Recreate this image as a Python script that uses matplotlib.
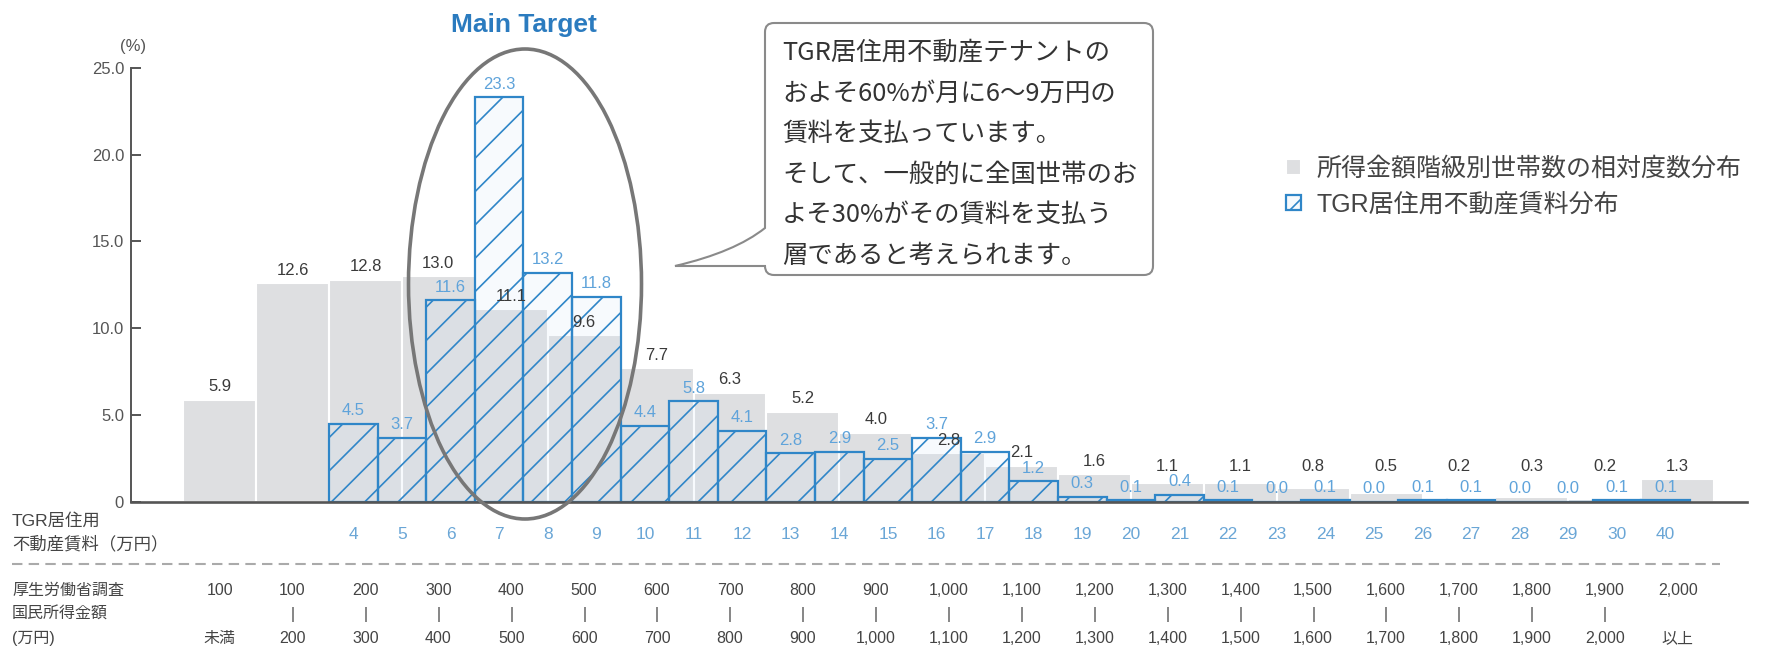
import matplotlib
matplotlib.use('Agg')
import matplotlib.pyplot as plt
import numpy as np
from matplotlib.patches import Ellipse, PathPatch
from matplotlib.path import Path

plt.rcParams['font.family'] = ['Liberation Sans', 'Noto Sans CJK JP', 'DejaVu Sans']
plt.rcParams['hatch.linewidth'] = 1.2

# ---------------- data ----------------
income_top = ["100", "100", "200", "300", "400", "500", "600", "700", "800", "900",
              "1,000", "1,100", "1,200", "1,300", "1,400", "1,500", "1,600", "1,700",
              "1,800", "1,900", "2,000"]
income_bottom = ["未満", "200", "300", "400", "500", "600", "700", "800", "900", "1,000",
                 "1,100", "1,200", "1,300", "1,400", "1,500", "1,600", "1,700", "1,800",
                 "1,900", "2,000", "以上"]
income_share = [5.9, 12.6, 12.8, 13.0, 11.1, 9.6, 7.7, 6.3, 5.2, 4.0, 2.8, 2.1, 1.6,
                1.1, 1.1, 0.8, 0.5, 0.2, 0.3, 0.2, 1.3]

rent_labels = ["4", "5", "6", "7", "8", "9", "10", "11", "12", "13", "14", "15", "16",
               "17", "18", "19", "20", "21", "22", "23", "24", "25", "26", "27", "28",
               "29", "30", "40"]
rent_share = [4.5, 3.7, 11.6, 23.3, 13.2, 11.8, 4.4, 5.8, 4.1, 2.8, 2.9, 2.5, 3.7,
              2.9, 1.2, 0.3, 0.1, 0.4, 0.1, 0.0, 0.1, 0.0, 0.1, 0.1, 0.0, 0.0, 0.1, 0.1]

legend_labels = ["所得金額階級別世帯数の相対度数分布", "TGR居住用不動産賃料分布"]
callout_lines = ["TGR居住用不動産テナントの",
                 "およそ60%が月に6〜9万円の",
                 "賃料を支払っています。",
                 "そして、一般的に全国世帯のお",
                 "よそ30%がその賃料を支払う",
                 "層であると考えられます。"]

# ---------------- layout ----------------
W, H = 1769, 658
fig = plt.figure(figsize=(W / 100, H / 100), dpi=100, facecolor='white')

ax_l, ax_r, ax_b, ax_t = 131, 1747, 502, 67.7
ax = fig.add_axes([ax_l / W, (H - ax_b) / H, (ax_r - ax_l) / W, (ax_b - ax_t) / H])

GRAY = '#dedfe1'
BLUE = '#2f86c8'
BLUE_TXT = '#5fa3da'
DARK = '#3a3a3a'

n_inc = len(income_share)
n_rent = len(rent_share)
gray_w = 1.5
gx = -3 + gray_w * np.arange(n_inc)
bx = np.arange(n_rent)

gray_bars = ax.bar(gx, income_share, width=gray_w, align='edge', color=GRAY,
                   edgecolor='white', linewidth=1.5, zorder=1)
blue_bars = ax.bar(bx, rent_share, width=1, align='edge',
                   facecolor=(0.80, 0.89, 0.97, 0.15), edgecolor=BLUE,
                   hatch='/', linewidth=1.6, zorder=2)

# gray labels keep a minimum height so they clear the small blue labels
gray_label_floor = 1.3
for x, v in zip(gx, income_share):
    ax.annotate(f"{v:.1f}", (x + gray_w / 2, max(v, gray_label_floor)), xytext=(0, 4),
                textcoords='offset points', ha='center', va='bottom', fontsize=12,
                color=DARK, zorder=6)
for x, v in zip(bx, rent_share):
    ax.annotate(f"{v:.1f}", (x + 0.5, v), xytext=(0, 4), textcoords='offset points',
                ha='center', va='bottom', fontsize=12, color=BLUE_TXT, zorder=6)

x_left = (ax_l - 329) / 48.6
x_right = (ax_r - 329) / 48.6
ax.set_xlim(x_left, x_right)
ax.set_ylim(0, 25)

for s in ['top', 'right']:
    ax.spines[s].set_visible(False)
ax.spines['left'].set_color('#555555')
ax.spines['left'].set_linewidth(1.4)
ax.spines['bottom'].set_color('#555555')
ax.spines['bottom'].set_linewidth(1.9)
ax.spines['bottom'].set_zorder(4)

yt = [0, 5, 10, 15, 20, 25]
ax.set_yticks(yt)
ax.set_yticklabels(["0"] + [f"{v:.1f}" for v in yt[1:]])
ax.tick_params(axis='y', direction='in', length=7, width=1.4, color='#555555',
               labelsize=12, labelcolor='#555555', pad=5)

ax.set_xticks(bx + 0.5)
ax.set_xticklabels(rent_labels)
ax.tick_params(axis='x', length=0, pad=18, labelsize=12.5, labelcolor='#6aa6d6')

# income class labels on a secondary axis
sec = ax.secondary_xaxis(-0.186)
inc_lbls = []
for i, (a, b) in enumerate(zip(income_top, income_bottom)):
    mid = " " if i in (0, n_inc - 1) else "|"
    inc_lbls.append(f"{a}\n{mid}\n{b}")
sec.set_xticks(gx + gray_w / 2)
sec.set_xticklabels(inc_lbls, linespacing=1.75)
sec.tick_params(length=0, pad=0, labelsize=11.5, labelcolor='#444444')
for s in sec.spines.values():
    s.set_visible(False)

# legend
fig.legend([gray_bars, blue_bars], legend_labels, loc='upper left',
           bbox_to_anchor=(1286 / W, (H - 157) / H), frameon=False, fontsize=18,
           handlelength=0.6, handleheight=0.6, handletextpad=0.6, labelspacing=0.45,
           borderpad=0, borderaxespad=0, labelcolor='#444444')

# ---------------- overlay (annotations in pixel coords) ----------------
ov = fig.add_axes([0, 0, 1, 1], zorder=10)
ov.set_xlim(0, W)
ov.set_ylim(H, 0)
ov.axis('off')
ov.patch.set_alpha(0)

ov.add_patch(Ellipse((525, 284), 233, 470, fill=False, edgecolor='#777777', lw=2.6))
ov.text(524, 25, "Main Target", ha='center', va='center', fontsize=19,
        fontweight='bold', color='#2b7bbf', family=['Liberation Sans'])

ov.text(133, 47, "(%)", ha='center', va='center', fontsize=12, color='#555555')

# callout box with tail
L, R, T, B, r = 765, 1153, 23, 275, 9
tipx, tipy = 675, 266
verts = [(L + r, T), (R - r, T), (R, T), (R, T + r), (R, B - r), (R, B), (R - r, B),
         (L + r, B), (L, B), (L, B - r), (L, tipy), (tipx, tipy), (735, 252), (L, 228),
         (L, T + r), (L, T), (L + r, T), (L + r, T)]
codes = [Path.MOVETO, Path.LINETO, Path.CURVE3, Path.CURVE3, Path.LINETO, Path.CURVE3,
         Path.CURVE3, Path.LINETO, Path.CURVE3, Path.CURVE3, Path.LINETO, Path.LINETO,
         Path.CURVE3, Path.CURVE3, Path.LINETO, Path.CURVE3, Path.CURVE3, Path.CLOSEPOLY]
ov.add_patch(PathPatch(Path(verts, codes), facecolor='white', edgecolor='#8a8a8a', lw=1.5))
line_y = [53, 94, 134, 175, 215, 256]
for txt, y in zip(callout_lines, line_y):
    ov.text(782, y, txt, ha='left', va='center', fontsize=18.3, color='#333333',
            family=['Noto Sans CJK JP'])

# left-side row captions
ov.text(12, 521, "TGR居住用", ha='left', va='center', fontsize=12.5, color='#444444')
ov.text(12, 544, "不動産賃料（万円）", ha='left', va='center', fontsize=12.5, color='#444444')
ov.plot([12, 1720], [564, 564], color='#aaaaaa', lw=1.5, dashes=(5, 3))
ov.text(12, 590, "厚生労働省調査", ha='left', va='center', fontsize=11.5, color='#444444')
ov.text(12, 614, "国民所得金額", ha='left', va='center', fontsize=11.5, color='#444444')
ov.text(12, 638, "(万円)", ha='left', va='center', fontsize=11.5, color='#444444')

fig.savefig('out.png', dpi=100, facecolor='white')
